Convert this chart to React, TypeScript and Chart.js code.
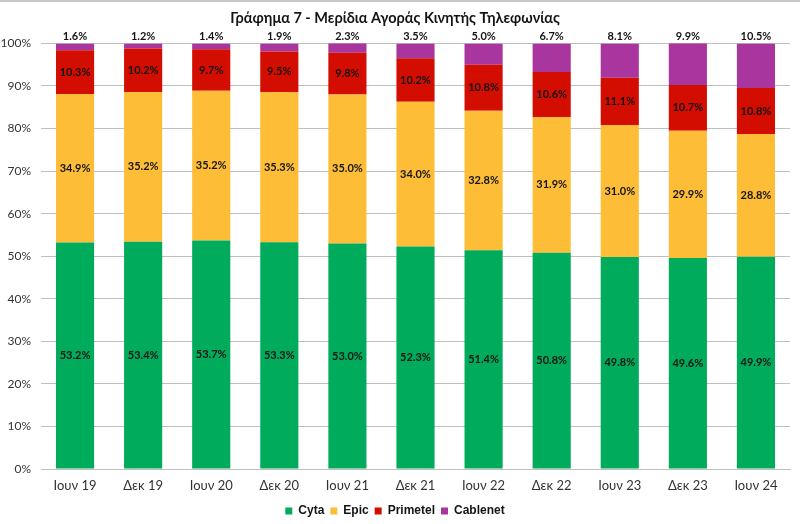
import React, { useEffect, useRef } from "react";
import { Chart, registerables } from "chart.js";

Chart.register(...registerables);

const categories = ["Ιουν 19", "Δεκ 19", "Ιουν 20", "Δεκ 20", "Ιουν 21", "Δεκ 21", "Ιουν 22", "Δεκ 22", "Ιουν 23", "Δεκ 23", "Ιουν 24"];
const cyta = [53.2, 53.4, 53.7, 53.3, 53.0, 52.3, 51.4, 50.8, 49.8, 49.6, 49.9];
const epic = [34.9, 35.2, 35.2, 35.3, 35.0, 34.0, 32.8, 31.9, 31.0, 29.9, 28.8];
const primetel = [10.3, 10.2, 9.7, 9.5, 9.8, 10.2, 10.8, 10.6, 11.1, 10.7, 10.8];
const cablenet = [1.6, 1.2, 1.4, 1.9, 2.3, 3.5, 5.0, 6.7, 8.1, 9.9, 10.5];
const yTicks = [0, 10, 20, 30, 40, 50, 60, 70, 80, 90, 100];

const FONT = "Lato, 'Open Sans', sans-serif";

const labelPlugin = {
  id: "segLabels",
  beforeDraw(chart: any) {
    const ctx = chart.ctx;
    ctx.save();
    ctx.fillStyle = "#c8c8c8";
    ctx.fillRect(0, 0, chart.width, 2);
    ctx.restore();
  },
  afterDatasetsDraw(chart: any) {
    const ctx = chart.ctx;
    ctx.save();
    ctx.font = `bold 11px ${FONT}`;
    ctx.fillStyle = "#141414";
    ctx.textAlign = "center";
    ctx.textBaseline = "middle";
    const n = chart.data.datasets.length;
    chart.data.datasets.forEach((ds: any, di: number) => {
      const meta = chart.getDatasetMeta(di);
      meta.data.forEach((el: any, i: number) => {
        const v = ds.data[i];
        const txt = v.toFixed(1) + "%";
        if (di === n - 1) {
          ctx.fillText(txt, el.x, el.y - 7);
        } else {
          ctx.fillText(txt, el.x, (el.y + el.base) / 2);
        }
      });
    });
    ctx.restore();
  },
};

export default function App() {
  const ref = useRef<HTMLCanvasElement>(null);
  useEffect(() => {
    document.body.style.margin = "0";
    const chart = new Chart(ref.current!, {
      type: "bar",
      data: {
        labels: categories,
        datasets: [
          { label: "Cyta", data: cyta, backgroundColor: "#00AB5B" },
          { label: "Epic", data: epic, backgroundColor: "#FEBD36" },
          { label: "Primetel", data: primetel, backgroundColor: "#D30D00" },
          { label: "Cablenet", data: cablenet, backgroundColor: "#A9359F" },
        ],
      },
      options: {
        animation: false,
        responsive: false,
        maintainAspectRatio: false,
        layout: { padding: { left: 0, right: 10, top: 0, bottom: -3 } },
        datasets: { bar: { barPercentage: 0.56, categoryPercentage: 1 } },
        plugins: {
          title: {
            display: true,
            text: "Γράφημα 7 - Μερίδια Αγοράς Κινητής Τηλεφωνίας",
            font: { family: FONT, size: 14.5, weight: "bold" },
            color: "#141414",
            padding: { top: 10, bottom: 16 },
          },
          legend: {
            position: "bottom",
            labels: {
              boxWidth: 7,
              boxHeight: 7,
              padding: 6,
              color: "#141414",
              font: { family: "'Liberation Sans Narrow', 'Arial Narrow', 'Liberation Sans', sans-serif", size: 12, weight: "bold" },
            },
          },
          tooltip: { enabled: false },
        },
        scales: {
          x: {
            stacked: true,
            grid: { display: false, drawTicks: false },
            border: { display: true, color: "#bfbfbf", width: 1 },
            ticks: { color: "#333", font: { family: FONT, size: 13 }, padding: 9, maxRotation: 0 },
            afterFit: (s: any) => { s.height = 30; },
          },
          y: {
            stacked: true,
            min: 0,
            max: 100,
            afterBuildTicks: (s: any) => { s.ticks = yTicks.map((v) => ({ value: v })); },
            grid: { color: "#bfbfbf", drawTicks: false, lineWidth: 1 },
            border: { display: false },
            ticks: { color: "#333", font: { family: FONT, size: 12 }, padding: 10, callback: (v: any) => v + "%" },
            afterFit: (s: any) => { s.width = 41; },
          },
        },
      },
      plugins: [labelPlugin],
    } as any);
    return () => chart.destroy();
  }, []);
  return (
    <div style={{ position: "absolute", left: 0, top: 0, width: 800, height: 524, background: "#fff" }}>
      <canvas ref={ref} width={800} height={524} style={{ width: 800, height: 524 }} />
    </div>
  );
}
